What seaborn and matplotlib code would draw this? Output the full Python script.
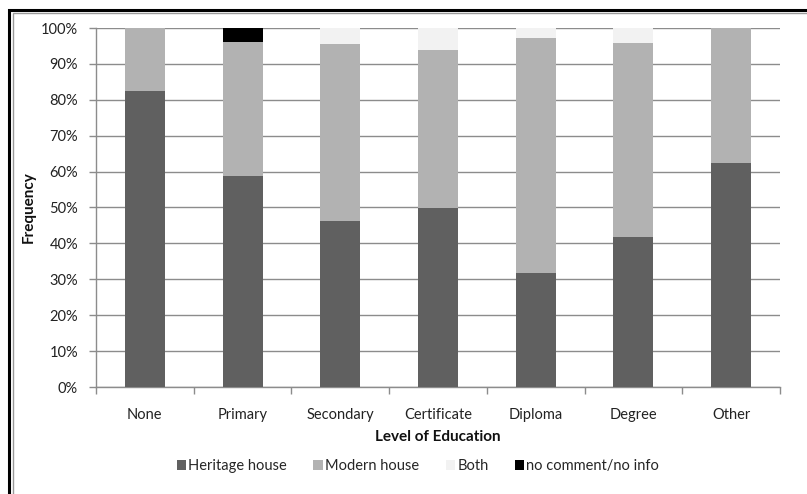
import numpy as np
import pandas as pd
import matplotlib
matplotlib.use("Agg")
import matplotlib.pyplot as plt
from matplotlib.patches import Patch, Rectangle
from matplotlib.ticker import FuncFormatter, FixedLocator
import seaborn as sns

categories = ["None", "Primary", "Secondary", "Certificate", "Diploma", "Degree", "Other"]
heritage = [82.4, 58.8, 46.2, 49.8, 31.7, 41.7, 62.5]
modern = [17.6, 37.2, 49.4, 44.0, 65.6, 54.0, 37.5]
both = [0.0, 0.0, 4.4, 6.2, 2.7, 4.3, 0.0]
no_info = [0.0, 4.0, 0.0, 0.0, 0.0, 0.0, 0.0]
series_names = ["Heritage house", "Modern house", "Both", "no comment/no info"]
colors = ["#606060", "#b2b2b2", "#f2f2f2", "#000000"]
y_ticks = [0, 10, 20, 30, 40, 50, 60, 70, 80, 90, 100]

sns.set_theme(style="white")
plt.rcParams["font.family"] = ["Lato", "DejaVu Sans"]

FS = 10.5
fig = plt.figure(figsize=(8.07, 4.94), dpi=100)
ax = fig.add_axes([96 / 807, 1 - 387 / 494, (780 - 96) / 807, (387 - 28) / 494])

df = pd.DataFrame({"cat": categories, "h": heritage, "m": modern, "b": both, "n": no_info})
layers = [
    df["h"] + df["m"] + df["b"] + df["n"],
    df["h"] + df["m"] + df["b"],
    df["h"] + df["m"],
    df["h"],
]
layer_colors = colors[::-1]
for vals, col in zip(layers, layer_colors):
    sns.barplot(x=df["cat"], y=vals, color=col, width=0.41, linewidth=0,
                saturation=1, ax=ax, zorder=3, order=categories)

ax.set_ylim(0, 100)
ax.set_xlim(-0.5, len(categories) - 0.5)
ax.yaxis.set_major_locator(FixedLocator(y_ticks))
ax.yaxis.set_major_formatter(FuncFormatter(lambda v, p: f"{int(v)}%"))
ax.grid(axis="y", color="#8c8c8c", linewidth=1.0, zorder=0)
ax.grid(axis="x", visible=False)
ax.set_axisbelow(True)
for s in ["top", "right"]:
    ax.spines[s].set_visible(False)
for s in ["left", "bottom"]:
    ax.spines[s].set_color("#8c8c8c")
    ax.spines[s].set_linewidth(1.0)

ax.tick_params(axis="y", which="major", left=True, length=5, width=1, color="#8c8c8c",
               labelsize=FS, labelcolor="#222222", pad=8)
ax.tick_params(axis="x", which="major", bottom=False, labelsize=FS, labelcolor="#222222", pad=9)
ax.set_xticks(np.arange(-0.5, len(categories) + 0.5, 1.0), minor=True)
ax.tick_params(axis="x", which="minor", bottom=True, length=5, width=1, color="#8c8c8c", direction="out")

ax.set_xlabel("Level of Education", fontsize=11, fontweight="bold", color="#111111")
ax.set_ylabel("Frequency", fontsize=11, fontweight="bold", color="#111111")
ax.xaxis.set_label_coords(0.5, -(430 - 387) / 359)
ax.yaxis.set_label_coords((36 - 96) / 684, 0.5)

handles = [Patch(facecolor=c, edgecolor="none", label=n) for c, n in zip(colors, series_names)]
fig.legend(handles=handles, loc="center", bbox_to_anchor=(418 / 807, 1 - 466 / 494), ncol=4,
           frameon=False, fontsize=FS, handlelength=0.65, handleheight=0.65,
           handletextpad=0.15, columnspacing=1.8)

# outer frame (double line), extending beyond right/bottom
fig.patches.append(Rectangle((9 / 807, -0.2), 1.2, 1 - 10 / 494 + 0.2, transform=fig.transFigure,
                             fill=False, edgecolor="#000000", linewidth=2.2))
fig.patches.append(Rectangle((12.5 / 807, -0.2), 1.2, 1 - 13.5 / 494 + 0.2, transform=fig.transFigure,
                             fill=False, edgecolor="#9a9a9a", linewidth=1.0))

fig.savefig("out.png", dpi=100)
